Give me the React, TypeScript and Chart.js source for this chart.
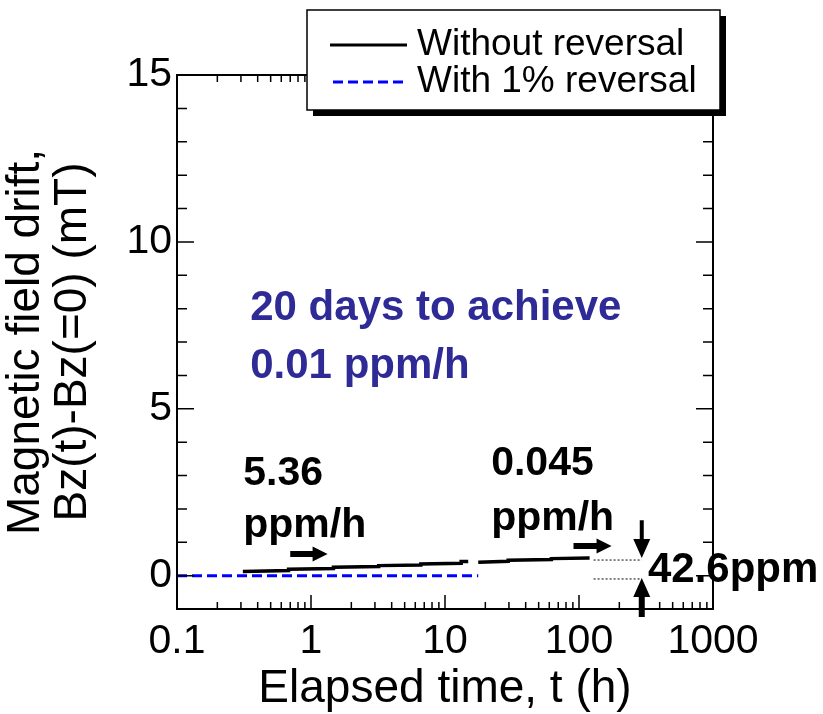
import React, { useEffect, useRef } from 'react';
import { Chart, registerables } from 'chart.js';

Chart.register(...registerables);

// ---- data ----
const timeWithout = [0.31, 0.68, 0.68, 1.47, 1.47, 3.2, 3.2, 6.6, 6.6, 13.2, 13.2, 14.9, 16, 17.7, 29.6, 29.6, 62.2, 62.2, 120];
const driftWithout = [0.12, 0.15, 0.19, 0.21, 0.25, 0.27, 0.3, 0.32, 0.35, 0.37, 0.42, 0.42, null, 0.4, 0.43, 0.46, 0.48, 0.51, 0.53];
const timeWith = [0.1, 17.7];
const driftWith = [0, 0];
const seriesLabels = ['Without reversal', 'With 1% reversal'];
const xTickValues = [0.1, 1, 10, 100, 1000];
const xTickLabels = ['0.1', '1', '10', '100', '1000'];
const yTickValues = [0, 5, 10, 15];
const yTickLabels = ['0', '5', '10', '15'];

const FONT = "'Liberation Sans', Arial, sans-serif";

function drawArrow(ctx: CanvasRenderingContext2D, x1: number, y1: number, x2: number, y2: number, shaft: number, headLen: number, headW: number) {
  const dx = x2 - x1, dy = y2 - y1;
  const len = Math.hypot(dx, dy);
  const ux = dx / len, uy = dy / len;
  const px = -uy, py = ux;
  const bx = x2 - ux * headLen, by = y2 - uy * headLen;
  ctx.beginPath();
  ctx.moveTo(x1 + px * shaft / 2, y1 + py * shaft / 2);
  ctx.lineTo(bx + px * shaft / 2, by + py * shaft / 2);
  ctx.lineTo(bx + px * headW / 2, by + py * headW / 2);
  ctx.lineTo(x2, y2);
  ctx.lineTo(bx - px * headW / 2, by - py * headW / 2);
  ctx.lineTo(bx - px * shaft / 2, by - py * shaft / 2);
  ctx.lineTo(x1 - px * shaft / 2, y1 - py * shaft / 2);
  ctx.closePath();
  ctx.fill();
}

const overlayPlugin = {
  id: 'overlay',
  afterDatasetsDraw(chart: any) {
    const ctx: CanvasRenderingContext2D = chart.ctx;
    const xs = chart.scales.x;
    const ys = chart.scales.y;
    const { left, right, top, bottom } = chart.chartArea;
    const X = (v: number) => xs.getPixelForValue(v);
    const Y = (v: number) => ys.getPixelForValue(v);
    ctx.save();
    // frame
    ctx.strokeStyle = '#000';
    ctx.lineWidth = 2;
    ctx.strokeRect(left, top, right - left, bottom - top);
    // x ticks (bottom & top)
    ctx.lineWidth = 1.5;
    ctx.beginPath();
    for (let d = 0; d < xTickValues.length; d++) {
      const dec = xTickValues[d];
      const px = X(dec);
      ctx.moveTo(px, bottom); ctx.lineTo(px, bottom - 14);
      ctx.moveTo(px, top); ctx.lineTo(px, top + 14);
      if (d < xTickValues.length - 1) {
        for (let k = 2; k <= 9; k++) {
          const mx = X(dec * k);
          ctx.moveTo(mx, bottom); ctx.lineTo(mx, bottom - 7);
          ctx.moveTo(mx, top); ctx.lineTo(mx, top + 7);
        }
      }
    }
    // y ticks (left & right)
    for (let v = ys.min; v <= ys.max; v++) {
      const py = Y(v);
      const len = yTickValues.includes(v) ? 17 : 10;
      ctx.moveTo(left, py); ctx.lineTo(left + len, py);
      ctx.moveTo(right, py); ctx.lineTo(right - len, py);
    }
    ctx.stroke();

    // annotations
    ctx.fillStyle = '#2e2a96';
    ctx.font = `bold 42px ${FONT}`;
    ctx.textAlign = 'left';
    ctx.textBaseline = 'alphabetic';
    ctx.fillText('20 days to achieve', X(0.352), Y(7.65));
    ctx.fillText('0.01 ppm/h', X(0.352), Y(5.92));

    ctx.fillStyle = '#000';
    ctx.font = `bold 41px ${FONT}`;
    ctx.fillText('5.36', X(0.312), Y(2.71));
    ctx.fillText('ppm/h', X(0.312), Y(1.16));
    ctx.fillText('0.045', X(22.1), Y(3.01));
    ctx.fillText('ppm/h', X(22.1), Y(1.37));
    ctx.font = `bold 42px ${FONT}`;
    ctx.fillText('42.6ppm', X(327), Y(-0.19));

    // arrows
    drawArrow(ctx, X(0.70), Y(0.65), X(1.33), Y(0.65), 6, 15, 15);
    drawArrow(ctx, X(91), Y(0.89), X(175), Y(0.89), 6, 15, 15);
    drawArrow(ctx, X(294), Y(1.66), X(294), Y(0.53), 4, 19, 17);
    drawArrow(ctx, X(294), Y(-1.24), X(294), Y(-0.07), 6, 19, 17);

    // dotted reference lines
    ctx.lineWidth = 1;
    ctx.setLineDash([2, 2]);
    ctx.beginPath();
    ctx.moveTo(X(128.5), Y(0.467)); ctx.lineTo(X(294), Y(0.467));
    ctx.moveTo(X(128.5), Y(-0.1)); ctx.lineTo(X(294), Y(-0.1));
    ctx.stroke();
    ctx.restore();
  },
  afterDraw(chart: any) {
    const ctx: CanvasRenderingContext2D = chart.ctx;
    const ds = chart.data.datasets;
    ctx.save();
    // legend box with shadow
    const bx = 307, by = 10, bw = 413, bh = 100;
    ctx.fillStyle = '#000';
    ctx.fillRect(bx + 6, by + 6, bw, bh);
    ctx.fillStyle = '#fff';
    ctx.fillRect(bx, by, bw, bh);
    ctx.strokeStyle = '#000';
    ctx.lineWidth = 1.5;
    ctx.strokeRect(bx, by, bw, bh);
    const rows = [45, 82];
    ds.forEach((d: any, i: number) => {
      ctx.strokeStyle = d.borderColor;
      ctx.lineWidth = 3;
      ctx.setLineDash(d.borderDash || []);
      ctx.beginPath();
      ctx.moveTo(i === 0 ? 330 : 333, rows[i]);
      ctx.lineTo(407, rows[i]);
      ctx.stroke();
      ctx.setLineDash([]);
      ctx.fillStyle = '#000';
      ctx.font = `37px ${FONT}`;
      ctx.textAlign = 'left';
      ctx.textBaseline = 'middle';
      ctx.fillText(d.label, 417, rows[i]);
    });
    ctx.restore();
  },
};

export default function App() {
  const ref = useRef<HTMLCanvasElement | null>(null);
  useEffect(() => {
    document.body.style.margin = '0';
    if (!ref.current) return;
    const chart = new Chart(ref.current, {
      type: 'line',
      data: {
        datasets: [
          {
            label: seriesLabels[0],
            data: timeWithout.map((t, i) => ({ x: t, y: driftWithout[i] })) as any,
            borderColor: '#000000',
            borderWidth: 3.5,
            pointRadius: 0,
            spanGaps: false,
            tension: 0,
          },
          {
            label: seriesLabels[1],
            data: timeWith.map((t, i) => ({ x: t, y: driftWith[i] })) as any,
            borderColor: '#0000ff',
            borderWidth: 3,
            borderDash: [10, 5],
            pointRadius: 0,
            tension: 0,
          },
        ],
      },
      options: {
        animation: false,
        responsive: false,
        maintainAspectRatio: false,
        layout: { padding: { left: 0, top: 75, right: 110, bottom: 0 } },
        plugins: { legend: { display: false }, tooltip: { enabled: false } },
        scales: {
          x: {
            type: 'logarithmic',
            position: 'bottom',
            min: 0.1,
            max: 1000,
            grid: { display: false, drawTicks: false },
            border: { display: false },
            afterBuildTicks: (s: any) => {
              s.ticks = xTickValues.map((v) => ({ value: v, major: true }));
            },
            afterFit: (s: any) => {
              s.height = 714 - 609;
            },
            ticks: {
              autoSkip: false,
              maxRotation: 0,
              minRotation: 0,
              padding: 8,
              color: '#000',
              font: { family: FONT, size: 41 },
              callback: (v: any) => {
                const i = xTickValues.indexOf(Number(v));
                return i >= 0 ? xTickLabels[i] : '';
              },
            },
            title: {
              display: true,
              text: 'Elapsed time, t (h)',
              color: '#000',
              font: { family: FONT, size: 46, lineHeight: 1.0 },
              padding: { top: 0, bottom: 2 },
            },
          },
          y: {
            type: 'linear',
            min: -1,
            max: 15,
            grid: { display: false, drawTicks: false },
            border: { display: false },
            afterBuildTicks: (s: any) => {
              s.ticks = yTickValues.map((v) => ({ value: v }));
            },
            afterFit: (s: any) => {
              s.width = 177;
            },
            ticks: {
              padding: 5,
              color: '#000',
              font: { family: FONT, size: 41 },
              callback: (v: any) => {
                const i = yTickValues.indexOf(Number(v));
                return i >= 0 ? yTickLabels[i] : '';
              },
            },
            title: {
              display: true,
              text: ['Magnetic field drift,', 'Bz(t)-Bz(=0) (mT)'],
              color: '#000',
              font: { family: FONT, size: 46, lineHeight: 1.04 },
              padding: { top: 2, bottom: 0 },
            },
          },
        },
      },
      plugins: [overlayPlugin],
    });
    return () => chart.destroy();
  }, []);
  return (
    <div style={{ position: 'absolute', left: 0, top: 0, width: 823, height: 714 }}>
      <canvas ref={ref} width={823} height={714} style={{ display: 'block', width: 823, height: 714 }} />
    </div>
  );
}
